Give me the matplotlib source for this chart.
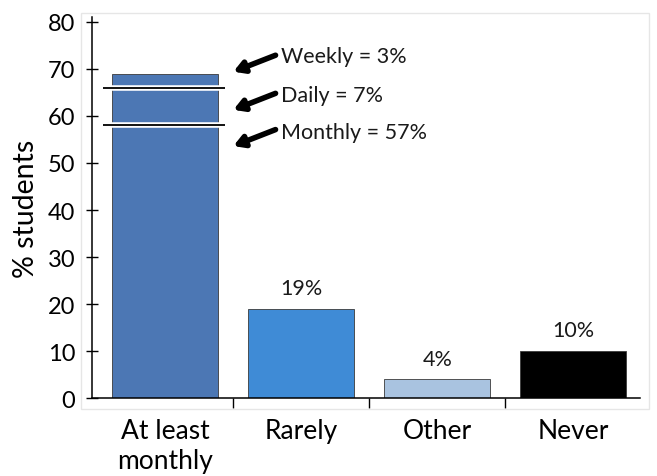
import matplotlib.pyplot as plt
from matplotlib.patches import Rectangle

plt.rcParams['font.family'] = ['Lato', 'DejaVu Sans']

# data
categories = ['At least\nmonthly', 'Rarely', 'Other', 'Never']
values = [69, 19, 4, 10]
bar_labels = ['', '19%', '4%', '10%']
colors = ['#4c77b4', '#3f8bd6', '#a9c3e0', '#000000']

# pieces of the first bar, bottom to top
split_levels = [58, 66]
split_texts = ['Monthly = 57%', 'Daily = 7%', 'Weekly = 3%']

fig = plt.figure(figsize=(6.57, 4.77), dpi=100)
ax = fig.add_axes([0.14, 0.163, 0.834, 0.799])

# faint frame around the plot like the slide
fig.patches.append(Rectangle((0.123, 0.14), 0.865, 0.83, transform=fig.transFigure,
                             fill=False, edgecolor='#e6e6e6', linewidth=1))

x = list(range(len(categories)))
ax.bar(x, values, width=0.78, color=colors, edgecolor='#3a3a3a', linewidth=0.6, zorder=2)

for xi, v, lab in zip(x, values, bar_labels):
    if lab:
        ax.text(xi, v + 2.3, lab, ha='center', va='bottom', fontsize=15.5, color='#1a1a1a')

# black lines with white halo splitting the first bar
for lev in split_levels:
    ax.plot([-0.46, 0.44], [lev, lev], color='white', linewidth=4, zorder=3, solid_capstyle='butt')
    ax.plot([-0.46, 0.44], [lev, lev], color='black', linewidth=1.3, zorder=4, solid_capstyle='butt')

# arrows and labels
arrow_heads = [53.6, 61.3, 69.4]
text_y = [56.6, 64.4, 72.8]
for hy, ty, t in zip(arrow_heads, text_y, split_texts):
    ax.annotate('', xy=(0.5, hy), xytext=(0.81, hy + 3.5),
                arrowprops=dict(arrowstyle='-|>,head_length=0.6,head_width=0.35',
                                color='black', lw=4, shrinkA=0, shrinkB=0))
    ax.text(0.85, ty, t, ha='left', va='center', fontsize=15.5, color='#1a1a1a')

ax.set_xlim(-0.54, 3.49)
ax.set_ylim(0, 81)
ax.set_yticks(range(0, 81, 10))
ax.tick_params(axis='y', direction='inout', length=8, labelsize=17, width=1, pad=8)
ax.set_xticks(x)
ax.set_xticklabels(categories, fontsize=19, linespacing=1.25)
ax.tick_params(axis='x', length=0, pad=14)
ax.set_xticks([0.5, 1.5, 2.5], minor=True)
ax.tick_params(axis='x', which='minor', direction='out', length=7, width=1)
ax.set_ylabel('% students', fontsize=20.5, labelpad=6)

for s in ['top', 'right']:
    ax.spines[s].set_visible(False)
for s in ['left', 'bottom']:
    ax.spines[s].set_linewidth(1.1)

fig.savefig('out.png', dpi=100)
